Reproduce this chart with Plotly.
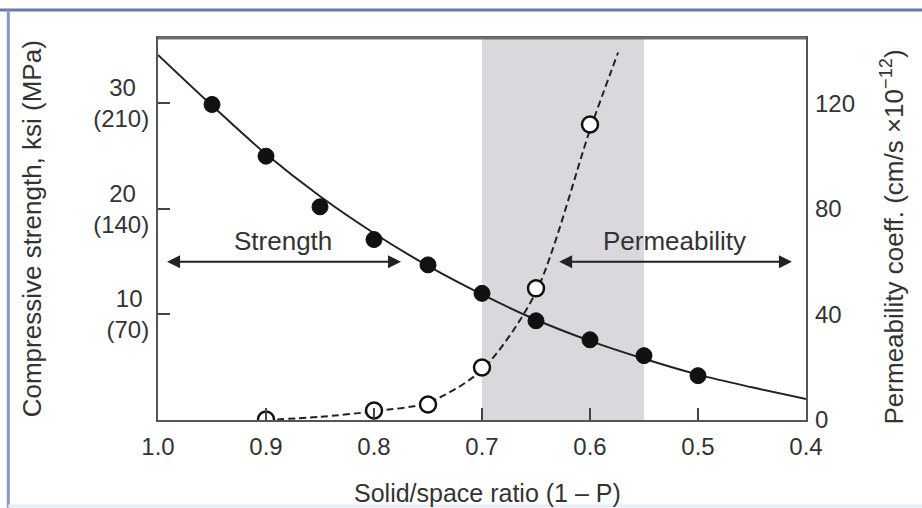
import plotly.graph_objects as go

# ---- data ----
strength_x = [0.95, 0.90, 0.85, 0.80, 0.75, 0.70, 0.65, 0.60, 0.55, 0.50]
strength_y = [29.9, 25.0, 20.2, 17.1, 14.7, 12.0, 9.4, 7.6, 6.1, 4.2]

strength_curve_x = [1.0, 0.95, 0.9, 0.85, 0.8, 0.75, 0.7, 0.65, 0.6, 0.55, 0.5, 0.45, 0.4]
strength_curve_y = [34.6, 29.8, 25.2, 21.2, 17.7, 14.6, 11.9, 9.5, 7.5, 5.8, 4.3, 3.1, 2.0]

perm_x = [0.90, 0.80, 0.75, 0.70, 0.65, 0.60]
perm_y = [0.2, 3.6, 5.9, 19.9, 49.9, 112.0]

perm_curve_x = [0.90, 0.85, 0.80, 0.75, 0.70, 0.65, 0.60, 0.574]
perm_curve_y = [0.0, 1.2, 3.3, 6.6, 19.0, 48.5, 110.0, 139.3]

x_ticks = [1.0, 0.9, 0.8, 0.7, 0.6, 0.5, 0.4]
x_ticktext = ["1.0", "0.9", "0.8", "0.7", "0.6", "0.5", "0.4"]
left_ticks = [10, 20, 30]
left_ticktext = ["10\u00a0<br>(70)", "20\u00a0\u00a0<br>(140)", "30\u00a0\u00a0<br>(210)"]
right_ticks = [0, 40, 80, 120]
right_ticktext = ["0", "40", "80", "120"]

shade_range = [0.70, 0.55]
strength_arrow = [0.993, 0.775, 15.0]
perm_arrow = [0.63, 0.413, 15.0]

FONT = "Liberation Sans, Arial, sans-serif"
TXT = "#333333"

fig = go.Figure()

fig.add_trace(go.Scatter(x=strength_curve_x, y=strength_curve_y, mode="lines",
                         line=dict(color="#222222", width=2, shape="spline"),
                         showlegend=False, hoverinfo="skip"))
fig.add_trace(go.Scatter(x=strength_x, y=strength_y, mode="markers",
                         marker=dict(color="#111111", size=16, line=dict(color="#111111", width=1)),
                         showlegend=False))
fig.add_trace(go.Scatter(x=perm_curve_x, y=perm_curve_y, mode="lines", yaxis="y2",
                         line=dict(color="#222222", width=2, dash="7px,4px", shape="spline", smoothing=0.8),
                         showlegend=False, hoverinfo="skip"))
fig.add_trace(go.Scatter(x=perm_x, y=perm_y, mode="markers", yaxis="y2",
                         marker=dict(color="white", size=16, line=dict(color="#111111", width=2.5)),
                         showlegend=False))

# shaded band
fig.add_shape(type="rect", xref="x", yref="paper", x0=shade_range[0], x1=shade_range[1],
              y0=0, y1=1, fillcolor="#d9d9dd", line=dict(width=0), layer="below")

# window-like frame
fig.add_shape(type="line", xref="paper", yref="paper", x0=-0.26, x1=1.2, y0=1.0733, y1=1.0733,
              line=dict(color="#6a7aa8", width=3))
fig.add_shape(type="line", xref="paper", yref="paper", x0=-0.231, x1=-0.231, y0=-0.23, y1=1.0733,
              line=dict(color="#8a96c4", width=3))
fig.add_shape(type="line", xref="paper", yref="paper", x0=-0.231, x1=1.2, y0=-0.225, y1=-0.225,
              line=dict(color="#e6eef8", width=3))
# heavier top border of the plot box
fig.add_shape(type="line", xref="paper", yref="paper", x0=0, x1=1, y0=1, y1=1,
              line=dict(color="#6e6e6e", width=3))

# arrows
for (x0, x1, yv), label in [(strength_arrow, "Strength"), (perm_arrow, "Permeability")]:
    fig.add_annotation(x=x1, y=yv, ax=x0, ay=yv, xref="x", yref="y", axref="x", ayref="y",
                       text="", showarrow=True, arrowhead=2, arrowside="end+start",
                       arrowsize=1.3, arrowwidth=2, arrowcolor="#222222")
    fig.add_annotation(x=(x0 + x1) / 2, y=yv, xref="x", yref="y", text=label, showarrow=False,
                       yshift=21, font=dict(family=FONT, size=26, color=TXT))

# axis titles
fig.add_annotation(x=-0.194, y=0.5, xref="paper", yref="paper", xanchor="center", yanchor="middle",
                   text="Compressive strength, ksi (MPa)",
                   textangle=-90, showarrow=False, font=dict(family=FONT, size=26, color=TXT))
fig.add_annotation(x=1.134, y=0.48, xref="paper", yref="paper", xanchor="center", yanchor="middle",
                   text="Permeability coeff. (cm/s \u00d710<sup>\u221212</sup>)",
                   textangle=-90, showarrow=False, font=dict(family=FONT, size=26, color=TXT))
fig.add_annotation(x=0.509, y=-0.19, xref="paper", yref="paper", xanchor="center", yanchor="middle",
                   text="Solid/space ratio (1 \u2013 P)",
                   showarrow=False, font=dict(family=FONT, size=25, color=TXT))

fig.update_layout(
    width=922, height=508,
    margin=dict(l=158, r=116, t=38, b=88),
    paper_bgcolor="white", plot_bgcolor="white",
    font=dict(family=FONT, size=24, color=TXT),
    xaxis=dict(range=[1.0, 0.4], tickvals=x_ticks, ticktext=x_ticktext, ticks="inside",
               ticklen=12, tickwidth=2, tickcolor="#444", showline=True, mirror=True,
               linecolor="#555555", linewidth=2, showgrid=False, zeroline=False,
               ticklabelstandoff=4, tickfont=dict(size=24)),
    yaxis=dict(range=[0, 36.2], tickvals=left_ticks, ticktext=left_ticktext, ticks="inside",
               ticklen=12, tickwidth=2, tickcolor="#444", showline=True, mirror=True,
               linecolor="#555555", linewidth=2, showgrid=False, zeroline=False,
               ticklabelstandoff=2, tickfont=dict(size=24)),
    yaxis2=dict(range=[0, 144.8], overlaying="y", side="right", tickvals=right_ticks,
                ticktext=right_ticktext, ticks="", showgrid=False, zeroline=False,
                showline=False, ticklabelstandoff=8, tickfont=dict(size=24)),
)

fig.write_html("out.html")
